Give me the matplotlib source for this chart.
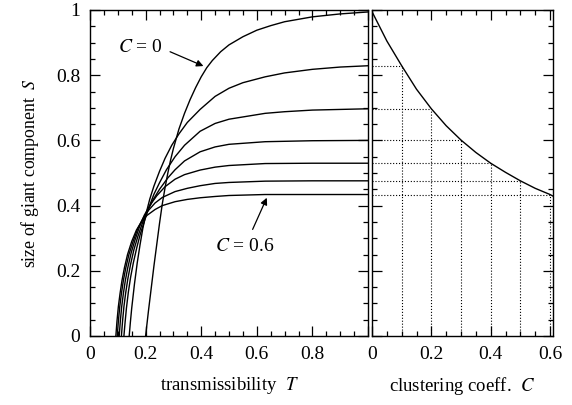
import matplotlib
matplotlib.use('Agg')
import matplotlib.pyplot as plt
from matplotlib.ticker import MultipleLocator

plt.rcParams['font.family'] = 'serif'
plt.rcParams['font.serif'] = ['Liberation Serif', 'DejaVu Serif']
plt.rcParams['mathtext.fontset'] = 'stix'

# 各クラスタ係数ごとの S(T) 曲線
clustering = [0.0, 0.1, 0.2, 0.3, 0.4, 0.5, 0.6]

t_c00 = [0.2, 0.21, 0.22, 0.23, 0.24, 0.25, 0.26, 0.27, 0.28, 0.29, 0.30, 0.32, 0.34, 0.36, 0.38,
         0.40, 0.42, 0.44, 0.47, 0.50, 0.55, 0.60, 0.65, 0.70, 0.80, 0.90, 1.0]
s_c00 = [0.0, 0.075, 0.145, 0.215, 0.28, 0.345, 0.405, 0.455, 0.50, 0.54, 0.575, 0.635, 0.683, 0.725, 0.762,
         0.795, 0.823, 0.845, 0.872, 0.893, 0.918, 0.938, 0.952, 0.964, 0.979, 0.988, 0.994]

t_c01 = [0.141, 0.145, 0.15, 0.16, 0.17, 0.18, 0.19, 0.20, 0.215, 0.23, 0.25, 0.27, 0.294, 0.32, 0.35,
         0.396, 0.45, 0.50, 0.55, 0.63, 0.70, 0.80, 0.90, 1.0]
s_c01 = [0.0, 0.04, 0.085, 0.16, 0.225, 0.28, 0.33, 0.37, 0.42, 0.46, 0.505, 0.545, 0.585, 0.62, 0.655,
         0.695, 0.735, 0.76, 0.777, 0.795, 0.807, 0.818, 0.825, 0.829]

t_c02 = [0.122, 0.126, 0.131, 0.138, 0.146, 0.156, 0.168, 0.18, 0.195, 0.21, 0.23, 0.25, 0.275, 0.306,
         0.34, 0.396, 0.45, 0.50, 0.63, 0.70, 0.80, 1.0]
s_c02 = [0.0, 0.04, 0.085, 0.135, 0.18, 0.225, 0.27, 0.31, 0.35, 0.39, 0.435, 0.47, 0.51, 0.55,
         0.585, 0.628, 0.652, 0.665, 0.683, 0.688, 0.693, 0.697]

t_c03 = [0.113, 0.117, 0.122, 0.128, 0.136, 0.146, 0.158, 0.172, 0.188, 0.205, 0.225, 0.25, 0.28, 0.306,
         0.34, 0.396, 0.45, 0.50, 0.63, 0.80, 1.0]
s_c03 = [0.0, 0.045, 0.09, 0.13, 0.175, 0.22, 0.265, 0.305, 0.345, 0.38, 0.415, 0.45, 0.485, 0.51,
         0.537, 0.565, 0.58, 0.588, 0.596, 0.599, 0.60]

t_c04 = [0.105, 0.109, 0.114, 0.12, 0.127, 0.136, 0.148, 0.162, 0.178, 0.195, 0.215, 0.24, 0.27, 0.306,
         0.34, 0.396, 0.45, 0.50, 0.63, 0.80, 1.0]
s_c04 = [0.0, 0.045, 0.09, 0.13, 0.17, 0.21, 0.255, 0.295, 0.335, 0.37, 0.40, 0.43, 0.458, 0.481,
         0.495, 0.509, 0.518, 0.523, 0.529, 0.53, 0.53]

t_c05 = [0.098, 0.102, 0.107, 0.113, 0.12, 0.129, 0.14, 0.155, 0.172, 0.19, 0.21, 0.234, 0.26, 0.306,
         0.35, 0.396, 0.45, 0.50, 0.63, 0.80, 1.0]
s_c05 = [0.0, 0.045, 0.09, 0.13, 0.17, 0.21, 0.25, 0.29, 0.33, 0.36, 0.385, 0.408, 0.425, 0.443,
         0.453, 0.461, 0.468, 0.471, 0.475, 0.476, 0.476]

t_c06 = [0.093, 0.097, 0.102, 0.108, 0.115, 0.124, 0.135, 0.15, 0.167, 0.185, 0.205, 0.234, 0.26, 0.306,
         0.35, 0.396, 0.45, 0.50, 0.63, 0.80, 1.0]
s_c06 = [0.0, 0.045, 0.09, 0.13, 0.17, 0.21, 0.25, 0.29, 0.325, 0.35, 0.37, 0.388, 0.40, 0.412,
         0.419, 0.424, 0.428, 0.431, 0.434, 0.434, 0.434]

curves_t = [t_c00, t_c01, t_c02, t_c03, t_c04, t_c05, t_c06]
curves_s = [s_c00, s_c01, s_c02, s_c03, s_c04, s_c05, s_c06]

# T=1 での S とクラスタ係数 C の関係（右パネル）
c_curve = [0.0, 0.05, 0.1, 0.15, 0.2, 0.25, 0.3, 0.35, 0.4, 0.45, 0.5, 0.55, 0.6, 0.61]
s_curve = [0.995, 0.905, 0.829, 0.757, 0.697, 0.645, 0.601, 0.563, 0.530, 0.502, 0.476, 0.453, 0.434, 0.429]

# 点線のガイド位置
c_marks = [0.1, 0.2, 0.3, 0.4, 0.5, 0.6]
s_marks = [0.829, 0.697, 0.601, 0.530, 0.476, 0.434]

fig = plt.figure(figsize=(5.72, 4.05), dpi=100)
ax1 = fig.add_axes([90 / 572, 1 - 336 / 405, 278 / 572, 326 / 405])
ax2 = fig.add_axes([372 / 572, 1 - 336 / 405, 181 / 572, 326 / 405])

for t, s in zip(curves_t, curves_s):
    ax1.plot(t, s, '-', color='black', linewidth=1.0)

# 注記（矢印とラベル）
arrow = dict(arrowstyle='-|>', color='black', lw=0.9, shrinkA=0, shrinkB=0, mutation_scale=10)
ax1.text(0.183, 0.886, '$C$ = 0', fontsize=14, ha='center', va='center')
ax1.annotate('', xy=(0.408, 0.828), xytext=(0.288, 0.872), arrowprops=arrow)
ax1.text(0.557, 0.275, '$C$ = 0.6', fontsize=14, ha='center', va='center')
ax1.annotate('', xy=(0.636, 0.424), xytext=(0.585, 0.327), arrowprops=arrow)

ax1.set_xlim(0, 1)
ax1.set_ylim(0, 1)
ax1.set_xticks([0, 0.2, 0.4, 0.6, 0.8, 1.0])
ax1.set_xticklabels(['0', '0.2', '0.4', '0.6', '0.8', ''])
ax1.set_yticks([0, 0.2, 0.4, 0.6, 0.8, 1.0])
ax1.set_yticklabels(['0', '0.2', '0.4', '0.6', '0.8', '1'])
ax1.set_xlabel('transmissibility  $T$', fontsize=13.5, labelpad=9)
ax1.set_ylabel('size of giant component  $S$', fontsize=12.8, labelpad=11)

# 右パネル
ax2.plot(c_curve, s_curve, '-', color='black', linewidth=1.0)
for c, s in zip(c_marks, s_marks):
    ax2.plot([0, c], [s, s], ':', color='black', linewidth=0.8)
    ax2.plot([c, c], [0, s], ':', color='black', linewidth=0.8)
ax2.set_xlim(0, 0.61)
ax2.set_ylim(0, 1)
ax2.set_xticks([0, 0.2, 0.4, 0.6])
ax2.set_xticklabels(['0', '0.2', '0.4', '0.6'])
ax2.set_yticks([0, 0.2, 0.4, 0.6, 0.8, 1.0])
ax2.set_yticklabels([])
ax2.set_xlabel('clustering coeff.  $C$', fontsize=13.5, labelpad=9)

for ax in (ax1, ax2):
    ax.xaxis.set_minor_locator(MultipleLocator(0.05))
    ax.yaxis.set_minor_locator(MultipleLocator(0.05))
    ax.tick_params(which='both', direction='in', top=True, right=True, width=0.9)
    ax.tick_params(which='major', length=7, labelsize=14, pad=7)
    ax.tick_params(which='minor', length=3.5)
    for sp in ax.spines.values():
        sp.set_linewidth(1.0)

fig.savefig('out.png', dpi=100)
